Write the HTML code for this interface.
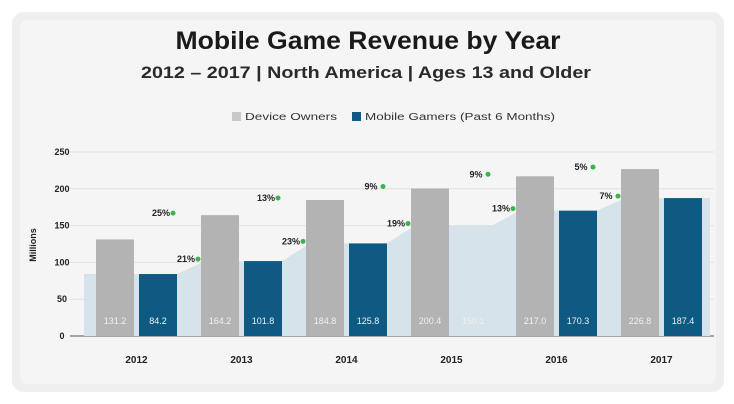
<!DOCTYPE html>
<html><head><meta charset="utf-8"><style>
body{margin:0;background:#fff;}
svg{display:block;font-family:"Liberation Sans",sans-serif;}
</style></head><body>
<svg id="chart" width="734" height="404" viewBox="0 0 734 404">
<rect x="12" y="12" width="712" height="380" rx="12" fill="#efefef"/>
<rect x="20" y="20" width="696" height="364" rx="8" fill="#f5f5f5"/>
<text x="368" y="49" text-anchor="middle" font-size="25" font-weight="bold" fill="#1a1a1a" textLength="385" lengthAdjust="spacingAndGlyphs">Mobile Game Revenue by Year</text>
<text x="366" y="78" text-anchor="middle" font-size="17" font-weight="bold" fill="#2a2a2a" textLength="450" lengthAdjust="spacingAndGlyphs">2012 – 2017 | North America | Ages 13 and Older</text>
<g>
<rect x="232" y="112" width="9" height="9" fill="#c8c8c8"/>
<text x="245" y="120" font-size="10" fill="#333" textLength="92" lengthAdjust="spacingAndGlyphs">Device Owners</text>
<rect x="352" y="112" width="9" height="9" fill="#0f5a82"/>
<text x="365" y="120" font-size="10" fill="#333" textLength="190" lengthAdjust="spacingAndGlyphs">Mobile Gamers (Past 6 Months)</text>
</g>
<text transform="translate(36,245) rotate(-90)" text-anchor="middle" font-size="9" font-weight="bold" fill="#222">Millions</text>
<g id="plot"></g>
</svg>
<script>
const years=["2012","2013","2014","2015","2016","2017"];
const deviceOwners=[131.2,164.2,184.8,200.4,217.0,226.8];
const mobileGamers=[84.2,101.8,125.8,150.1,170.3,187.4];
const gamerBarShown=[true,true,true,false,true,true];
const deviceGrowth=["25%","13%","9%","9%","5%"];
const gamerGrowth=["21%","23%","19%","13%","7%"];
const yTicks=[0,50,100,150,200,250];

const NS="http://www.w3.org/2000/svg";
const plot=document.getElementById('plot');
const y0=336,yTop=152,yMax=250;
function y(v){return y0-(v/yMax)*(y0-yTop);}
const left=84,right=714,gw=(right-left)/years.length;
function gx(i){return left+gw*i+gw/2;}
const bw=38,gap=5;
function mk(t,a){const e=document.createElementNS(NS,t);for(const k in a)e.setAttribute(k,a[k]);plot.appendChild(e);return e;}

yTicks.forEach(t=>{
 const l=mk('line',{x1:70,x2:714,y1:y(t),y2:y(t),stroke:t===0?'#888':'#e2e2e2','stroke-width':t===0?1.5:1});
 
 
 const tx=mk('text',{x:62,y:y(t)+3,'text-anchor':'middle','font-size':9,'font-weight':'bold',fill:'#222'});
 tx.textContent=t;
 
 
});

// area: flat across each group's gamer bar, sloped between groups
let pts=[[left,y(mobileGamers[0])]];
years.forEach((yr,i)=>{
 pts.push([gx(i)-gap/2-bw+4,y(mobileGamers[i])]);
 pts.push([gx(i)+gap/2+bw,y(mobileGamers[i])]);
});
pts.push([right-4,y(mobileGamers[mobileGamers.length-1])]);
pts[1][0]=left;
let d='M'+left+','+y0+' '+pts.map(p=>'L'+p[0]+','+p[1]).join(' ')+' L'+(right-4)+','+y0+'Z';
const area=mk('path',{d:d,fill:'#d6e3ea'});



years.forEach((yr,i)=>{
 const cx=gx(i);
 const dx=cx-gap/2-bw;
 const b=mk('rect',{x:dx,y:y(deviceOwners[i]),width:bw,height:y0-y(deviceOwners[i]),fill:'#b3b3b3'});
 
 
 const t=mk('text',{x:dx+bw/2,y:y0-12,'text-anchor':'middle','font-size':9,fill:'#f0f0f0'});
 t.textContent=deviceOwners[i].toFixed(1);
 
 
 const mx=cx+gap/2;
 if(gamerBarShown[i]){
  const g=mk('rect',{x:mx,y:y(mobileGamers[i]),width:bw,height:y0-y(mobileGamers[i]),fill:'#0f5a82'});
  
  
 }
 const t2=mk('text',{x:mx+bw/2,y:y0-12,'text-anchor':'middle','font-size':9,fill:'#f0f0f0'});
 t2.textContent=mobileGamers[i].toFixed(1);
 
 
 const xl=mk('text',{x:cx,y:y0+27,'text-anchor':'middle','font-size':10,'font-weight':'bold',fill:'#222'});
 xl.textContent=yr;
 
 
});

function growth(label,xc,v,name){
 const t=mk('text',{x:xc,y:y(v)+1,'text-anchor':'middle','font-size':9,'font-weight':'bold',fill:'#222'});
 t.textContent=label;
 
 
 const c=mk('circle',{cx:xc+12,cy:y(v)-2,r:2.5,fill:'#3cb44b'});
 
 
}
for(let i=0;i<deviceGrowth.length;i++){
 growth(deviceGrowth[i],gx(i)+gw/2-28,deviceOwners[i+1],'growth-device-'+years[i+1]);
 growth(gamerGrowth[i],gx(i)+gw/2-3,mobileGamers[i+1],'growth-gamers-'+years[i+1]);
}
</script>
</body></html>
